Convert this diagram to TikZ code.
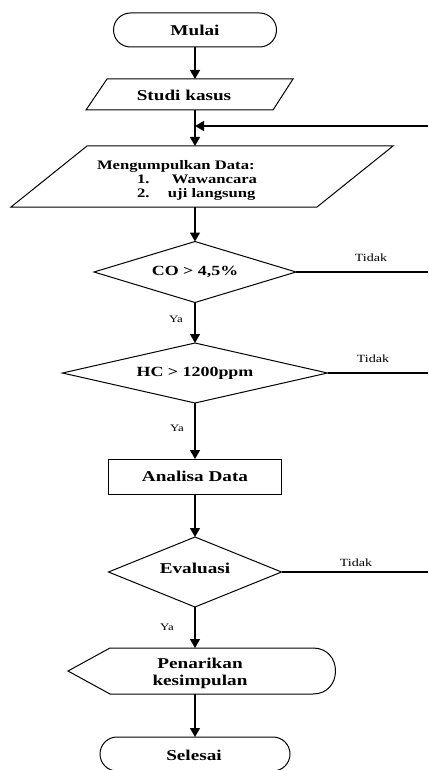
\documentclass[tikz,border=0pt]{standalone}
\usepackage{fontspec}
\setmainfont{Liberation Serif}[FakeStretch=1.28]
\usetikzlibrary{arrows.meta,shapes.misc,shapes.geometric}
\begin{document}
\begin{tikzpicture}[x=1pt,y=-1pt,
  line width=1pt,
  every node/.style={inner sep=0pt,outer sep=0pt},
  mainfont/.style={font=\fontsize{15}{17}\selectfont\bfseries},
  term/.style={draw,rounded rectangle,minimum height=34pt,mainfont},
  procbox/.style={draw,rectangle,minimum width=173pt,minimum height=35pt,mainfont},
  decbox/.style={draw,diamond,font=\fontsize{14}{16}\selectfont\bfseries},
  ghost/.style={rectangle,minimum width=150pt},
  arr/.style={line width=1.3pt,-{Triangle[width=10pt,length=9pt]}},
  conn/.style={line width=1.3pt},
  lbl/.style={font=\fontsize{11}{12}\selectfont},
]
\useasboundingbox (0,0) rectangle (428,770);

% Mulai
\node[term,minimum width=163pt] (mulai) at (195,30) {Mulai};

% Studi kasus
\draw (107,79) -- (293,79) -- (273,110) -- (86,110) -- cycle;
\node[ghost,minimum height=31pt] (studi) at (195,94.5) {};
\node[mainfont] (studitxt) at (184,95) {Studi kasus};

% Mengumpulkan data
\draw (87,146) -- (393,146) -- (317,207) -- (11,207) -- cycle;
\node[ghost,minimum height=61pt] (data) at (195,176.5) {};
\node[anchor=west,align=left,font=\fontsize{13}{14}\selectfont\bfseries] (datatxt) at (97,180)
  {Mengumpulkan Data:\\\hspace*{40pt}\makebox[35pt][l]{1.}Wawancara\\\hspace*{40pt}\makebox[31pt][l]{2.}uji langsung};

% Decisions and process
\node[decbox,aspect=3.3,minimum width=202pt,minimum height=61pt] (co) at (195,272) {CO > 4,5\%};
\node[decbox,aspect=4.4,minimum width=265pt,minimum height=60pt] (hc) at (195,373) {HC > 1200ppm};
\node[procbox] (analisa) at (195,476.5) {Analisa Data};
\node[decbox,aspect=2.5,minimum width=173pt,minimum height=70pt] (eval) at (195,572) {};
\node[mainfont] (evaltxt) at (195,568) {Evaluasi};

% Penarikan kesimpulan (display shape)
\draw (68,671) -- (110,648) -- (313,648) .. controls (343,648) and (343,694) .. (313,694) -- (110,694) -- cycle;
\node[ghost,minimum height=46pt] (kes) at (195,671) {};
\node[mainfont,align=center] (kestxt) at (200,673) {Penarikan\\kesimpulan};

% Selesai
\node[term,minimum width=190pt] (selesai) at (195,754) {};
\node[mainfont] (selesaitxt) at (194,755) {Selesai};

% Connectors
\draw[arr] (mulai.south) -- (studi.north);
\draw[arr] (studi.south) -- (data.north);
\coordinate (fb) at (428,126);
\draw[arr] (fb) -- (fb -| data.north);
\draw[arr] (data.south) -- (co.north);
\draw[arr] (co.south) -- (hc.north);
\draw[arr] (hc.south) -- (analisa.north);
\draw[arr] (analisa.south) -- (eval.north);
\draw[arr] (eval.south) -- (kes.north);
\draw[arr] (kes.south) -- (selesai.north);

% Tidak branches
\coordinate (cor) at (428,272);
\coordinate (hcr) at (428,373);
\coordinate (evr) at (428,572);
\draw[conn] (co.east) -- (cor);
\draw[conn] (hc.east) -- (hcr);
\draw[conn] (eval.east) -- (evr);

% Labels
\node[lbl] (t1) at (371,258) {Tidak};
\node[lbl] (t2) at (373,359) {Tidak};
\node[lbl] (t3) at (356,563) {Tidak};
\node[lbl,font=\fontsize{10}{12}\selectfont] (y1) at (176,319) {Ya};
\node[lbl,font=\fontsize{10}{12}\selectfont] (y2) at (177,428) {Ya};
\node[lbl,font=\fontsize{10}{12}\selectfont] (y3) at (167,627) {Ya};
\end{tikzpicture}
\end{document}
